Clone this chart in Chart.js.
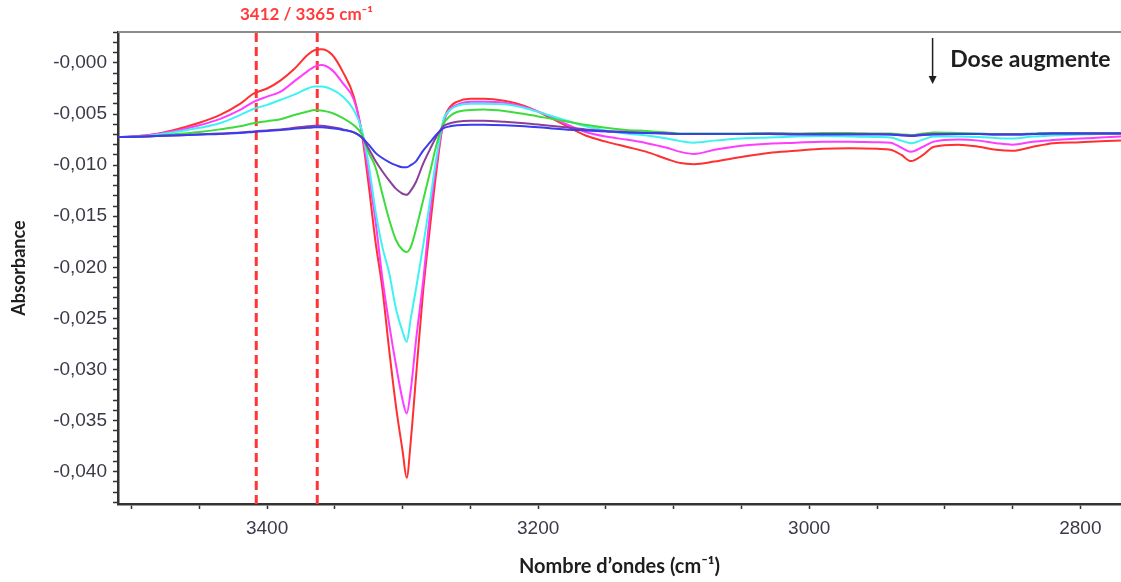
<!DOCTYPE html>
<html lang="fr">
<head>
<meta charset="UTF-8">
<title>Absorbance - dose</title>
<script src="https://cdn.jsdelivr.net/npm/chart.js@4"></script>
<style>
    body { margin: 0; background: #fff; }
    .graph { position: relative; width: 1121px; height: 582px; }
</style>
</head>
<body>
<div class="graph">
    <canvas id="spectre"></canvas>
</div>

<script>
// nombre d'ondes (cm-1)
const nombreOndes = [3510, 3490, 3470, 3450, 3435, 3420, 3410, 3400, 3390, 3380, 3370, 3365, 3360, 3352, 3344, 3336,
    3330, 3325, 3320, 3315, 3310, 3305, 3300, 3297, 3294, 3290, 3285, 3280, 3275, 3270, 3265, 3260, 3250, 3240,
    3225, 3210, 3195, 3180, 3165, 3150, 3135, 3120, 3105, 3095, 3085, 3070, 3050, 3030, 3010, 2990, 2970, 2950,
    2940, 2932, 2925, 2916, 2908, 2890, 2875, 2862, 2850, 2835, 2820, 2800, 2785, 2770];

// absorbance x 1000, une liste par dose
const rouge = [-7.25, -7.1, -6.6, -5.85, -5.1, -4.0, -3.0, -2.5, -1.7, -0.6, 0.8, 1.25, 1.35, 0.8, -0.9, -3.3,
    -7.0, -12.0, -17.5, -22, -28, -33.5, -38, -40.6, -37, -30.5, -22.5, -16.3, -10.5, -5.8, -4.3, -3.8, -3.5, -3.5,
    -3.7, -4.2, -5.1, -6.1, -7.1, -7.7, -8.2, -8.7, -9.4, -9.8, -9.9, -9.65, -9.2, -8.8, -8.6, -8.4, -8.35, -8.4,
    -8.5, -9.0, -9.6, -9.0, -8.2, -8.0, -8.2, -8.5, -8.6, -8.2, -7.85, -7.75, -7.65, -7.6];
const magenta = [-7.25, -7.1, -6.7, -6.1, -5.5, -4.6, -3.8, -3.3, -2.8, -1.8, -0.8, -0.35, -0.2, -0.7, -2.0, -3.6,
    -6.8, -11, -15.5, -21, -25.5, -29.5, -33, -34.3, -32, -27, -21.5, -15.0, -9.8, -5.9, -4.5, -4.1, -3.8, -3.8,
    -3.9, -4.3, -5.0, -5.95, -6.75, -7.2, -7.5, -7.85, -8.3, -8.7, -8.9, -8.5, -8.1, -7.9, -7.8, -7.7, -7.7, -7.75,
    -7.8, -8.3, -8.7, -8.2, -7.7, -7.5, -7.6, -7.85, -8.0, -7.7, -7.55, -7.4, -7.3, -7.2];
const cyan = [-7.25, -7.15, -6.8, -6.35, -5.9, -5.1, -4.5, -4.1, -3.6, -3.1, -2.5, -2.3, -2.3, -2.6, -3.3, -4.6,
    -6.6, -10, -14.5, -18, -20.5, -24, -26.3, -27.3, -25, -22, -18, -13.7, -9.2, -5.6, -4.6, -4.2, -4.0, -4.0,
    -4.05, -4.4, -5.0, -5.6, -6.2, -6.6, -6.9, -7.1, -7.4, -7.65, -7.8, -7.6, -7.4, -7.3, -7.2, -7.15, -7.2, -7.25,
    -7.3, -7.6, -7.85, -7.5, -7.2, -7.2, -7.25, -7.35, -7.4, -7.2, -7.1, -7.0, -6.95, -6.9];
const vert = [-7.25, -7.2, -7.0, -6.75, -6.5, -6.2, -5.9, -5.7, -5.5, -5.1, -4.75, -4.6, -4.65, -4.9, -5.4, -6.1,
    -7.0, -8.8, -10.2, -12.8, -15.3, -17.3, -18.3, -18.5, -18, -16.2, -13.5, -10.8, -8.0, -6.0, -5.2, -4.8, -4.6, -4.55,
    -4.7, -5.0, -5.35, -5.7, -6.05, -6.35, -6.55, -6.65, -6.8, -6.9, -6.9, -6.9, -6.9, -6.88, -6.9, -6.85, -6.85, -6.9,
    -6.9, -7.0, -7.05, -6.9, -6.8, -6.85, -6.9, -6.95, -6.95, -6.9, -6.85, -6.85, -6.85, -6.85];
const violet = [-7.25, -7.2, -7.1, -7.0, -6.9, -6.8, -6.7, -6.6, -6.5, -6.35, -6.2, -6.15, -6.15, -6.3, -6.5, -6.8,
    -7.3, -8.4, -9.6, -10.6, -11.5, -12.3, -12.8, -12.9, -12.5, -11.6, -9.9, -8.5, -7.2, -6.2, -5.9, -5.75, -5.65, -5.65,
    -5.75, -5.9, -6.1, -6.3, -6.5, -6.65, -6.75, -6.85, -6.9, -6.95, -6.95, -6.95, -6.95, -6.9, -6.95, -6.95, -6.95, -6.95,
    -7.0, -7.05, -7.1, -7.0, -6.95, -6.95, -6.95, -7.0, -7.0, -6.95, -6.9, -6.9, -6.9, -6.9];
const bleu = [-7.25, -7.2, -7.1, -7.0, -6.95, -6.85, -6.75, -6.65, -6.55, -6.45, -6.35, -6.3, -6.3, -6.4, -6.55, -6.8,
    -7.3, -8.0, -8.8, -9.3, -9.7, -10.0, -10.2, -10.2, -10.0, -9.6, -8.6, -7.8, -7.0, -6.4, -6.2, -6.1, -6.05, -6.05,
    -6.1, -6.2, -6.35, -6.5, -6.6, -6.7, -6.8, -6.85, -6.9, -6.95, -6.95, -6.95, -6.95, -6.95, -7.0, -7.0, -7.0, -7.0,
    -7.0, -7.1, -7.15, -7.05, -7.0, -6.95, -6.95, -7.0, -7.0, -6.95, -6.9, -6.9, -6.9, -6.9];

// lignes pointillees (positions)
const lignesRepere = [3408, 3363];

// graduations
const yTickValues = [0, -0.005, -0.010, -0.015, -0.020, -0.025, -0.030, -0.035, -0.040];
const yTickLabels = ['-0,000', '-0,005', '-0,010', '-0,015', '-0,020', '-0,025', '-0,030', '-0,035', '-0,040'];
const xTickValues = [3400, 3200, 3000, 2800];
const xTickLabels = ['3400', '3200', '3000', '2800'];

const yMin = -0.04316, yMax = 0.00303;

function serie(valeurs) {
    return nombreOndes.map((x, i) => ({ x: x, y: valeurs[i] / 1000 }));
}

function courbe(valeurs, couleur) {
    return {
        data: serie(valeurs),
        borderColor: couleur,
        borderWidth: 2,
        pointRadius: 0,
        cubicInterpolationMode: 'monotone',
        fill: false
    };
}

const datasets = [
    courbe(bleu, '#3b3bf0'),
    courbe(violet, '#8a3f98'),
    courbe(vert, '#3ddc3d'),
    courbe(cyan, '#3ff2f2'),
    courbe(magenta, '#ff3cff'),
    courbe(rouge, '#ff3030')
];

lignesRepere.forEach(x => {
    datasets.push({
        data: [{ x: x, y: yMin }, { x: x, y: yMax }],
        borderColor: '#ff3535',
        borderWidth: 3,
        borderDash: [9, 5],
        pointRadius: 0
    });
});

// textes et fleche au-dessus du graphique
const annotations = {
    id: 'annotations',
    afterDraw(chart) {
        const ctx = chart.ctx;
        const area = chart.chartArea;
        const xs = chart.scales.x;
        ctx.save();
        // bord haut du cadre
        ctx.strokeStyle = '#8c8c8c';
        ctx.lineWidth = 2;
        ctx.beginPath();
        ctx.moveTo(area.left, area.top);
        ctx.lineTo(area.right, area.top);
        ctx.stroke();

        ctx.fillStyle = '#ff3b3b';
        ctx.font = 'bold 17px Lato';
        ctx.textAlign = 'left';
        ctx.textBaseline = 'middle';
        ctx.fillText('3412 / 3365 cm⁻¹', xs.getPixelForValue(3420), 15);

        ctx.fillStyle = '#1e1e1e';
        ctx.font = 'bold 23px Lato';
        ctx.fillText('Dose augmente', xs.getPixelForValue(2896), 60);

        const xf = xs.getPixelForValue(2909);
        ctx.strokeStyle = '#1e1e1e';
        ctx.lineWidth = 1.5;
        ctx.beginPath();
        ctx.moveTo(xf, 38);
        ctx.lineTo(xf, 78);
        ctx.stroke();
        ctx.beginPath();
        ctx.moveTo(xf - 4, 76);
        ctx.lineTo(xf + 4, 76);
        ctx.lineTo(xf, 84);
        ctx.closePath();
        ctx.fill();
        ctx.restore();
    }
};

const ctx = document.getElementById('spectre').getContext('2d');
const graphique = new Chart(ctx, {
    type: 'line',
    data: { datasets: datasets },
    options: {
        responsive: true,
        maintainAspectRatio: false,
        animation: false,
        layout: { padding: { top: 32, right: 0, left: 0, bottom: 0 } },
        plugins: {
            legend: { display: false },
            tooltip: { enabled: false }
        },
        scales: {
            x: {
                type: 'linear',
                reverse: true,
                min: 2770,
                max: 3510,
                afterBuildTicks: s => {
                    const t = [];
                    for (let v = 3500; v >= 2800; v -= 50) t.push({ value: v });
                    s.ticks = t;
                },
                afterFit: s => { s.height = 78; },
                ticks: {
                    autoSkip: false,
                    maxRotation: 0,
                    padding: 8,
                    color: '#3a3a48',
                    font: { family: 'Liberation Sans, Arial', size: 19 },
                    callback: v => {
                        const i = xTickValues.indexOf(Math.round(v));
                        return i >= 0 ? xTickLabels[i] : '';
                    }
                },
                grid: { drawOnChartArea: false, tickLength: 5, tickColor: '#333', tickWidth: 1.5 },
                border: { color: '#333', width: 2.5 },
                title: {
                    display: true,
                    text: 'Nombre d’ondes (cm⁻¹)',
                    color: '#1e1e1e',
                    font: { family: 'Lato', size: 20, weight: 'bold' },
                    padding: { top: 0, bottom: 3 }
                }
            },
            y: {
                min: yMin,
                max: yMax,
                afterBuildTicks: s => {
                    const t = [];
                    for (let k = 3; k >= -43; k--) t.push({ value: k / 1000 });
                    s.ticks = t;
                },
                afterFit: s => { s.width = 118; },
                ticks: {
                    autoSkip: false,
                    padding: 6,
                    color: '#3a3a48',
                    font: { family: 'Liberation Sans, Arial', size: 19 },
                    callback: v => {
                        const i = yTickValues.findIndex(t => Math.abs(t - v) < 1e-7);
                        return i >= 0 ? yTickLabels[i] : '';
                    }
                },
                grid: { drawOnChartArea: false, tickLength: 5, tickColor: '#333', tickWidth: 1.5 },
                border: { color: '#333', width: 2.5 },
                title: {
                    display: true,
                    text: 'Absorbance',
                    color: '#1e1e1e',
                    font: { family: 'Lato', size: 18, weight: 'bold' },
                    padding: { top: 8, bottom: 0 }
                }
            }
        }
    },
    plugins: [annotations]
});
</script>
</body>
</html>
